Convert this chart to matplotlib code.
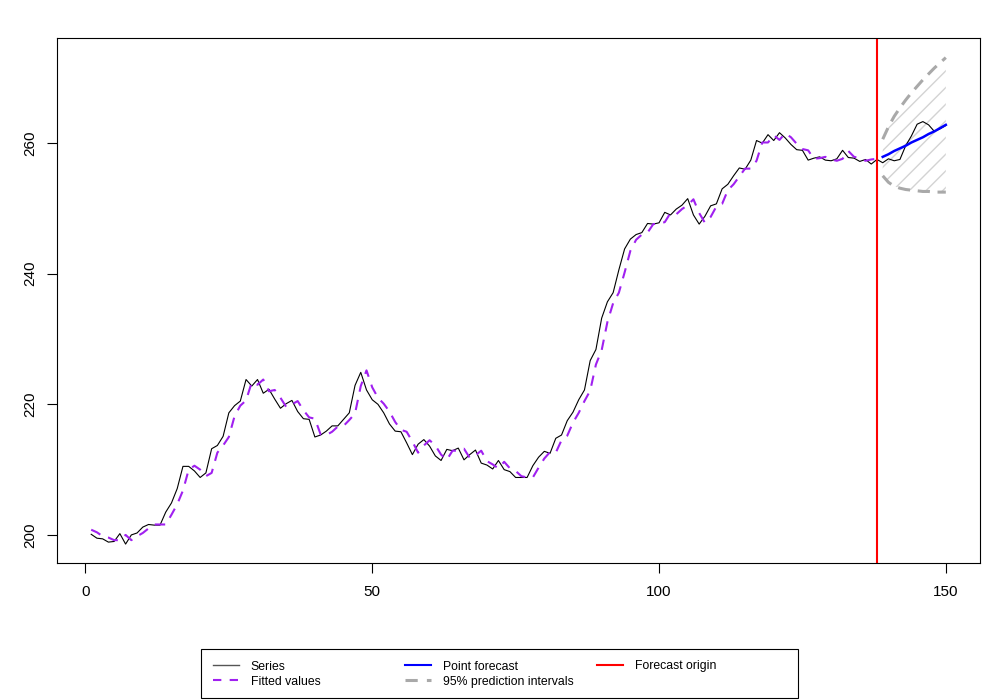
import numpy as np
import matplotlib
matplotlib.use("Agg")
import matplotlib.pyplot as plt
from matplotlib.lines import Line2D
from matplotlib.patches import Rectangle

plt.rcParams['font.family'] = ['Liberation Sans', 'DejaVu Sans']
plt.rcParams['hatch.linewidth'] = 1.0

# actual series (150 obs)
series = [200.1, 199.5, 199.4, 198.9, 199.0, 200.2, 198.6, 200.0, 200.3, 201.2,
          201.6, 201.5, 201.5, 203.5, 204.9, 207.1, 210.5, 210.5, 209.8, 208.8,
          209.5, 213.2, 213.7, 215.1, 218.7, 219.8, 220.5, 223.8, 222.8, 223.8,
          221.7, 222.3, 220.8, 219.4, 220.1, 220.6, 218.9, 217.8, 217.7, 215.0,
          215.3, 215.9, 216.7, 216.7, 217.7, 218.7, 222.9, 224.9, 222.2, 220.7,
          220.0, 218.7, 217.0, 215.9, 215.8, 214.1, 212.3, 213.9, 214.6, 213.6,
          212.1, 211.4, 213.1, 212.9, 213.3, 211.5, 212.3, 213.0, 211.0, 210.7,
          210.1, 211.4, 210.0, 209.7, 208.8, 208.8, 208.8, 210.6, 211.9, 212.8,
          212.5, 214.8, 215.3, 217.5, 218.8, 220.7, 222.2, 226.7, 228.4, 233.2,
          235.7, 237.1, 240.6, 243.8, 245.3, 246.0, 246.3, 247.7, 247.6, 247.8,
          249.4, 249.0, 249.9, 250.5, 251.5, 249.0, 247.6, 248.8, 250.4, 250.7,
          253.0, 253.7, 255.0, 256.2, 256.0, 257.4, 260.4, 260.0, 261.3, 260.4,
          261.6, 260.8, 259.8, 259.0, 258.9, 257.4, 257.7, 257.9, 257.4, 257.3,
          257.6, 258.9, 257.8, 257.7, 257.2, 257.5, 256.8, 257.5, 257.0, 257.6,
          257.3, 257.5, 259.6, 261.1, 262.9, 263.3, 262.8, 261.8, 262.2, 262.7]

# in-sample fitted values (1..138)
fitted = [200.8, 200.4, 199.8, 199.6, 199.2, 199.2, 200.0, 199.2, 199.8, 200.3,
          201.0, 201.6, 201.6, 201.6, 203.1, 204.7, 206.8, 210.0, 210.6, 210.0,
          209.0, 209.5, 212.6, 213.7, 215.0, 218.2, 219.8, 220.6, 223.4, 223.0,
          223.8, 222.0, 222.2, 221.0, 219.6, 220.0, 220.5, 219.1, 218.0, 217.8,
          215.4, 215.3, 215.8, 216.6, 216.7, 217.6, 218.6, 222.8, 225.2, 222.6,
          221.0, 220.1, 218.9, 217.3, 216.1, 215.8, 214.3, 212.6, 213.7, 214.5,
          213.7, 212.3, 211.5, 212.9, 212.9, 213.2, 211.8, 212.2, 212.9, 211.3,
          210.8, 210.2, 211.2, 210.2, 209.8, 209.0, 208.8, 208.8, 210.3, 211.7,
          212.7, 212.6, 214.5, 215.2, 217.2, 218.7, 220.5, 222.1, 226.1, 228.3,
          232.6, 235.5, 237.1, 240.2, 243.5, 245.2, 246.0, 246.3, 247.6, 247.7,
          247.9, 249.3, 249.1, 249.9, 250.5, 251.4, 249.3, 247.8, 248.7, 250.3,
          250.7, 252.8, 253.7, 254.9, 256.1, 256.1, 257.3, 260.1, 260.1, 261.2,
          260.5, 261.5, 260.9, 259.9, 259.1, 258.9, 257.6, 257.7, 257.9, 257.5,
          257.3, 257.6, 258.8, 257.9, 257.7, 257.3, 257.5, 257.6]

# forecast horizon 139..150
point_fc = [257.9, 258.3, 258.8, 259.2, 259.6, 260.1, 260.5, 260.9, 261.4, 261.8, 262.3, 262.8]
upper = [260.6, 262.5, 264.1, 265.4, 266.6, 267.7, 268.7, 269.7, 270.6, 271.5, 272.3, 273.1]
lower = [255.0, 254.0, 253.4, 253.1, 252.9, 252.8, 252.7, 252.6, 252.6, 252.5, 252.5, 252.5]
origin = 138

t = np.arange(1, len(series) + 1)
t_fit = np.arange(1, len(fitted) + 1)
t_fc = np.arange(origin + 1, origin + 1 + len(point_fc))

fig = plt.figure(figsize=(10, 7), dpi=100)
ax = fig.add_axes([0.057, 0.1957, 0.923, 0.75])

ax.fill_between(t_fc, lower, upper, facecolor='none', edgecolor='#d3d3d3',
                hatch='//', linewidth=0)
ax.plot(t, series, color='black', lw=0.8)
ax.plot(t_fit, fitted, color='#A020F0', lw=1.5, linestyle=(0, (5, 4)))
ax.plot(t_fc, upper, color='darkgrey', lw=2.2, linestyle=(0, (4, 2.5)))
ax.plot(t_fc, lower, color='darkgrey', lw=2.2, linestyle=(0, (4, 2.5)))
ax.plot(t_fc, point_fc, color='blue', lw=1.8)
ax.axvline(origin, color='red', lw=1.5)

ax.set_xlim(-4.96, 155.96)
ax.set_ylim(195.7, 276.1)
ax.set_xticks([0, 50, 100, 150])
ax.set_yticks([200, 220, 240, 260])
ax.tick_params(direction='out', length=7, width=0.8, labelsize=11, pad=8.5)
ax.tick_params(axis='y', pad=7.5)
for lab in ax.get_yticklabels():
    lab.set_rotation(90)
    lab.set_va('center')
for s in ax.spines.values():
    s.set_linewidth(0.8)

# legend: three columns at equal spacing, one framed box
fs = 8.8
cols = [
    ([Line2D([], [], color='#555555', lw=1)], ['Series']),
    ([Line2D([], [], color='blue', lw=1.5)], ['Point forecast']),
    ([Line2D([], [], color='red', lw=1.5)], ['Forecast origin']),
]
cols[0][0].append(Line2D([], [], color='#A020F0', lw=1.5, linestyle=(0, (4, 4))))
cols[0][1].append('Fitted values')
cols[1][0].append(Line2D([], [], color='darkgrey', lw=2.2, linestyle=(0, (4, 3))))
cols[1][1].append('95% prediction intervals')

for i, (hs, ls) in enumerate(cols):
    fig.legend(hs, ls, loc='upper left', bbox_to_anchor=(0.213 + 0.192 * i, 1 - 660.5 / 700),
               frameon=False, fontsize=fs, borderpad=0, borderaxespad=0,
               handlelength=2.1, handletextpad=1.0, labelspacing=0.25)

fig.patches.append(Rectangle((0.201, 1 - 697.7 / 700), 0.597, 49.2 / 700,
                             transform=fig.transFigure,
                             fill=False, edgecolor='black', lw=0.8))

fig.savefig('out.png', dpi=100)
